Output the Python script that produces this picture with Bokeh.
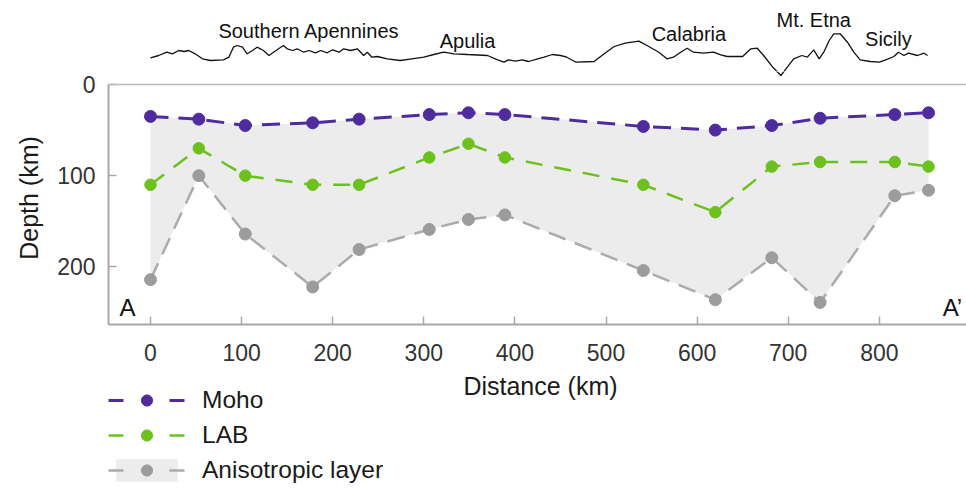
from bokeh.plotting import figure
from bokeh.layouts import column
from bokeh.models import Range1d, FixedTicker, Legend, LegendItem, Label, Span
from bokeh.core.properties import value
from bokeh.embed import file_html
from bokeh.resources import INLINE

# ---------------- data ----------------
distance_km = [0, 53, 104, 178, 229, 306, 349, 389, 541, 620, 682, 735, 817, 854]
moho_depth = [35, 38, 45, 42, 38, 33, 31, 33, 46, 50, 45, 37, 33, 31]
lab_depth = [110, 70, 100, 110, 110, 80, 65, 80, 110, 140, 90, 85, 85, 90]
aniso_base_depth = [214, 100, 164, 222, 181, 159, 148, 143, 204, 236, 190, 239, 122, 116]

# surface topography profile along A-A' (schematic, metres)
topo_km = [0, 9, 18, 24, 31, 37, 42, 49, 57, 66, 80, 86, 91, 95, 101, 106, 112, 117, 124, 130,
           135, 143, 146, 150, 156, 161, 168, 174, 181, 187, 194, 200, 207, 212, 220, 227, 234,
           238, 243, 249, 260, 274, 287, 300, 311, 322, 333, 348, 370, 381, 388, 393, 401, 408,
           415, 425, 432, 441, 450, 457, 467, 487, 498, 509, 521, 536, 545, 558, 567, 574, 582,
           589, 596, 607, 618, 626, 633, 650, 659, 666, 673, 683, 692, 699, 706, 715, 721, 728,
           734, 739, 745, 750, 757, 765, 772, 779, 790, 800, 807, 816, 821, 827, 832, 842, 849, 853]
topo_elev = [270, 500, 830, 670, 1000, 900, 1000, 670, 170, 0, 70, 330, 1330, 1500, 1330, 670,
             1000, 1330, 1000, 500, 830, 1330, 1500, 1170, 1000, 1170, 830, 1000, 770, 1000, 770,
             1070, 830, 1170, 1000, 1170, 500, 830, 330, 400, 170, 0, 170, 330, 600, 830, 670, 600,
             500, 70, -170, 70, -70, 70, -100, 170, 330, 600, 500, 330, -170, -100, 670, 1400,
             1730, 1930, 1500, 830, 170, 330, 830, 1230, 830, 730, 830, 570, 400, 400, 1170, 1230,
             500, -670, -1500, -670, 170, 500, 330, 1070, 170, 830, 2000, 2670, 2670, 1830, 830,
             70, -100, -170, 70, 400, 830, 500, 730, 500, 730, 500]

regions = ["Southern Apennines", "Apulia", "Calabria", "Mt. Etna", "Sicily"]
region_km = [174, 348, 591, 728, 810]
region_elev = [3000, 2000, 2670, 4070, 2150]

x_ticks = [0, 100, 200, 300, 400, 500, 600, 700, 800]
y_ticks = [0, 100, 200]

FONT = "Liberation Sans"
MOHO_C = "#4f2c9e"
LAB_C = "#6cc11c"
ANI_LINE_C = "#ababab"
ANI_PT_C = "#9c9c9c"
FILL_C = "#ececec"
AXIS_C = "#a8a8a8"
TXT_C = "#1a1a1a"
TOPO_C = "#111111"

W = 966
H_TOP = 71
H_MAIN = 300
H_LEG = 119
X_RANGE = (-46.1, 895.7)
DEPTH_MAX = 263.2
DEPTH_TOP = -14.25          # frame top sits a little above the 0 km line
TOPO_TOP_ELEV = 6000        # elevation scale: 100 m per pixel


def bare(fig):
    fig.xgrid.grid_line_color = None
    fig.ygrid.grid_line_color = None


# ---------------- topography strip ----------------
t = figure(width=W, height=H_TOP, x_range=Range1d(*X_RANGE),
           y_range=Range1d(TOPO_TOP_ELEV - H_TOP * 100, TOPO_TOP_ELEV),
           output_backend="svg", toolbar_location=None,
           x_axis_location=None, y_axis_location=None,
           min_border_left=108, min_border_right=0, min_border_top=0, min_border_bottom=0,
           outline_line_color=None, background_fill_color="white", border_fill_color="white")
bare(t)
t.line(topo_km, topo_elev, line_color=TOPO_C, line_width=1.3)
t.text(x=region_km, y=region_elev, text=regions,
       text_font=value(FONT), text_font_size="20px", text_align="center",
       text_baseline="middle", text_color=TOPO_C)

# ---------------- main depth section ----------------
p = figure(width=W, height=H_MAIN,
           x_range=Range1d(*X_RANGE), y_range=Range1d(DEPTH_MAX, DEPTH_TOP),
           output_backend="svg", toolbar_location=None,
           min_border_left=108, min_border_right=0, min_border_top=0, min_border_bottom=47,
           outline_line_color=None, background_fill_color="white", border_fill_color="white")
bare(p)
frame_h = H_MAIN - 47
p.extra_y_ranges = {"topo": Range1d(TOPO_TOP_ELEV - (H_TOP + frame_h) * 100,
                                    TOPO_TOP_ELEV - H_TOP * 100)}

xa = p.xaxis[0]
xa.ticker = FixedTicker(ticks=x_ticks)
ya = p.yaxis[0]
ya.ticker = FixedTicker(ticks=y_ticks)
ya.bounds = (0, DEPTH_MAX)
for ax in (xa, ya):
    ax.major_tick_in = 8
    ax.major_tick_out = 0
    ax.minor_tick_line_color = None
    ax.axis_line_color = AXIS_C
    ax.axis_line_width = 2
    ax.major_tick_line_color = AXIS_C
    ax.major_tick_line_width = 1.5
    ax.major_label_text_font = FONT
    ax.major_label_text_font_size = "23px"
    ax.major_label_text_color = "#333333"
xa.major_label_standoff = 19
ya.major_label_standoff = 13
ya.axis_label = "Depth (km)"
ya.axis_label_text_font = FONT
ya.axis_label_text_font_size = "25px"
ya.axis_label_text_font_style = "normal"
ya.axis_label_text_color = TXT_C
ya.axis_label_standoff = 11

# continuation of the topography line (deepest trough reaches below the strip)
p.line(topo_km, topo_elev, y_range_name="topo", line_color=TOPO_C, line_width=1.3)

# 0 km line closing the section at the top
p.add_layout(Span(location=0, dimension="width", line_color="#bdbdbd", line_width=1.5))

p.varea(x=distance_km, y1=moho_depth, y2=aniso_base_depth, fill_color=FILL_C)
p.line(distance_km, aniso_base_depth, line_color=ANI_LINE_C, line_width=2.5, line_dash="18 10")
p.scatter(distance_km, aniso_base_depth, size=12, fill_color=ANI_PT_C, line_color=ANI_PT_C)
p.line(distance_km, lab_depth, line_color=LAB_C, line_width=2.5, line_dash="17 12")
p.scatter(distance_km, lab_depth, size=11.5, fill_color=LAB_C, line_color=LAB_C)
p.line(distance_km, moho_depth, line_color=MOHO_C, line_width=3, line_dash="18 10")
p.scatter(distance_km, moho_depth, size=12, fill_color=MOHO_C, line_color=MOHO_C)

p.add_layout(Label(x=-25.2, y=245, text="A", text_align="center", text_baseline="middle",
                   text_font=FONT, text_font_size="24px", text_color=TOPO_C))
p.add_layout(Label(x=869.5, y=245, text="A\u2019", text_align="left", text_baseline="middle",
                   text_font=FONT, text_font_size="24px", text_color=TOPO_C))

# ---------------- x-axis title + legend strip ----------------
q = figure(width=W, height=H_LEG, x_range=Range1d(108, 966), y_range=Range1d(0, H_LEG),
           output_backend="svg", toolbar_location=None,
           x_axis_location=None, y_axis_location=None,
           min_border_left=108, min_border_right=0, min_border_top=0, min_border_bottom=0,
           outline_line_color=None, background_fill_color="white", border_fill_color="white")
bare(q)
q.add_layout(Label(x=540, y=H_LEG - 14, text="Distance (km)", text_align="center",
                   text_baseline="middle", text_font=FONT, text_font_size="25px",
                   text_color=TXT_C))

# legend proxies (hidden copies of the series, used only for the legend swatches)
LEG_DASH = "15 46"
lg_area = q.varea(x=distance_km, y1=moho_depth, y2=aniso_base_depth, fill_color=FILL_C, visible=False)
lg_ani_l = q.line(distance_km, aniso_base_depth, line_color=ANI_LINE_C, line_width=2.5,
                  line_dash=LEG_DASH, visible=False)
lg_ani_p = q.scatter(distance_km, aniso_base_depth, size=12, fill_color=ANI_PT_C,
                     line_color=ANI_PT_C, visible=False)
lg_lab_l = q.line(distance_km, lab_depth, line_color=LAB_C, line_width=2.5, line_dash=LEG_DASH,
                  visible=False)
lg_lab_p = q.scatter(distance_km, lab_depth, size=11.5, fill_color=LAB_C, line_color=LAB_C,
                     visible=False)
lg_moho_l = q.line(distance_km, moho_depth, line_color=MOHO_C, line_width=3, line_dash=LEG_DASH,
                   visible=False)
lg_moho_p = q.scatter(distance_km, moho_depth, size=12, fill_color=MOHO_C, line_color=MOHO_C,
                      visible=False)

legend = Legend(items=[
    LegendItem(label="Moho", renderers=[lg_moho_l, lg_moho_p]),
    LegendItem(label="LAB", renderers=[lg_lab_l, lg_lab_p]),
    LegendItem(label="Anisotropic layer", renderers=[lg_area, lg_ani_l, lg_ani_p]),
], location=(0, 6), orientation="vertical", glyph_width=77, glyph_height=28,
    spacing=7, padding=0, margin=0, label_standoff=17,
    label_text_font=FONT, label_text_font_size="24.5px", label_text_color=TXT_C,
    border_line_color=None, background_fill_alpha=0)
q.add_layout(legend)

layout = column(t, p, q, spacing=0)
open("out.html", "w").write(file_html(layout, INLINE))
